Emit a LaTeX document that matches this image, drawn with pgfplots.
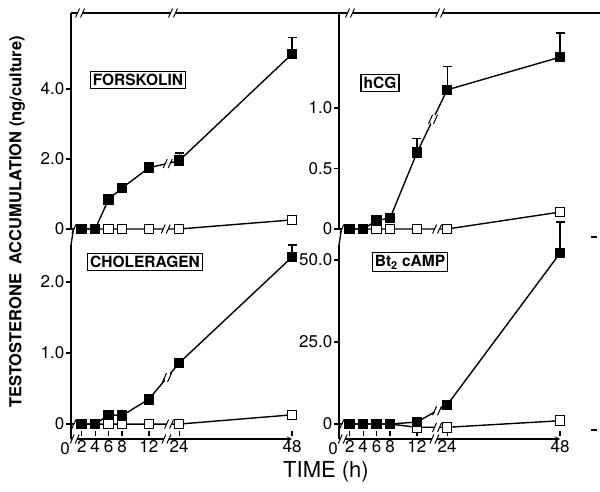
\documentclass[border=0pt]{standalone}
\usepackage{fontspec}
\setmainfont{TeX Gyre Heros}
\usepackage{pgfplots}
\pgfplotsset{compat=1.18}

% break mark "//" centred on a point
\newcommand{\brk}[1]{%
  \fill[white] ([shift={(-2.5pt,-4.5pt)}]#1) rectangle ([shift={(2.5pt,4.5pt)}]#1);
  \draw[line width=1pt] ([shift={(-4.5pt,-4.5pt)}]#1) -- ([shift={(-0.5pt,4.5pt)}]#1)
                        ([shift={(0.5pt,-4.5pt)}]#1) -- ([shift={(4.5pt,4.5pt)}]#1);}

\tikzset{lab/.style={draw=black, line width=1.3pt, inner sep=2.5pt,
    font=\fontsize{15.5}{17}\selectfont\bfseries}}

\pgfplotsset{
  panel/.style={
    scale only axis, clip=false, anchor=south west,
    xmin=0.4, xmax=33.3,
    axis y line=left, axis line style={-, line width=1.3pt},
    tick align=outside, major tick length=5pt,
    tick style={line width=1.2pt, black},
    ticklabel style={font=\fontsize{17}{18}\selectfont},
    yticklabel style={inner sep=1.5pt},
  },
  toppanel/.style={panel, axis x line=none, xtick=\empty, width=221pt, height=216pt, ymin=0},
  botpanel/.style={panel, axis x line=bottom, width=221pt, height=194pt,
    xtick={2,4,6,8,12,16.5,33.3}, xticklabels={2,4,6,8,12,24,48},
    xtick style={yshift=6pt, line width=1.2pt}, xticklabel style={yshift=5pt}},
  filled/.style={black, line width=1.4pt, mark=square*, mark size=4.8pt,
    mark options={fill=black, line width=1pt}},
  open/.style={black, line width=1.4pt, mark=square*, mark size=4.8pt,
    mark options={fill=white, line width=1pt}},
  errs/.style={forget plot, draw=none, error bars/.cd, y dir=plus, y explicit,
    error bar style={draw=black, line width=1.2pt},
    error mark options={rotate=90, draw=black, line width=1.2pt, mark size=4.5pt}},
}

\begin{document}
\begin{tikzpicture}[x=1pt,y=1pt]
\useasboundingbox (0,0) rectangle (600,491);

% ---------- FORSKOLIN ----------
\begin{axis}[toppanel, at={(71pt,262pt)}, ymax=6.17,
  ytick={0,2,4}, yticklabels={0,2.0,4.0}]
\addplot[errs] coordinates {(12,1.75) +- (0,0.11) (16.5,1.95) +- (0,0.22) (33.3,5.0) +- (0,0.47)};
\draw[line width=1.4pt] (axis cs:0.4,0) -- (axis cs:2,0);
\addplot[open] coordinates {(2,0) (4,0) (6,0) (8,0) (12,0) (16.5,0) (33.3,0.26)};
\addplot[filled] coordinates {(2,0) (4,0) (6,0.85) (8,1.17) (12,1.75) (16.5,1.95) (33.3,5.0)};
\brk{axis cs:1.2,0}
\brk{axis cs:14.5,0}
\brk{axis cs:14.8,1.87}
\end{axis}

% ---------- hCG ----------
\begin{axis}[toppanel, at={(339pt,262pt)}, ymax=1.785,
  ytick={0,0.5,1}, yticklabels={0,0.5,1.0}]
\addplot[errs] coordinates {(12,0.63) +- (0,0.12) (16.5,1.15) +- (0,0.19) (33.3,1.42) +- (0,0.2)};
\draw[line width=1.4pt] (axis cs:0.4,0) -- (axis cs:2,0);
\addplot[open] coordinates {(2,0) (4,0) (6,0) (8,0) (12,0) (16.5,0) (33.3,0.14)};
\addplot[filled] coordinates {(2,0) (4,0) (6,0.07) (8,0.09) (12,0.63) (16.5,1.15) (33.3,1.42)};
\brk{axis cs:1.2,0}
\brk{axis cs:15,0}
\brk{axis cs:14.4,0.907}
\end{axis}

% ---------- CHOLERAGEN ----------
\begin{axis}[botpanel, at={(71pt,52pt)}, ymin=-0.21, ymax=2.52,
  ytick={0,1,2}, yticklabels={0,1.0,2.0}]
\addplot[errs] coordinates {(16.5,0.86) +- (0,0.05) (33.3,2.35) +- (0,0.17)};
\draw[line width=1.4pt] (axis cs:0.4,0) -- (axis cs:2,0);
\draw[line width=1.3pt] (rel axis cs:0,1) -- ++(5pt,0);
\addplot[open] coordinates {(2,0) (4,0) (6,0) (8,0) (12,0) (16.5,0) (33.3,0.13)};
\addplot[filled] coordinates {(2,0) (4,0) (6,0.13) (8,0.12) (12,0.35) (16.5,0.86) (33.3,2.35)};
\brk{axis cs:1.2,0}
\brk{axis cs:15,0}
\brk{axis cs:14.7,0.656}
\brk{axis cs:0.95,-0.21}
\brk{axis cs:14.6,-0.21}
\end{axis}

% ---------- Bt2 cAMP ----------
\begin{axis}[botpanel, at={(339pt,52pt)}, ymin=-4.57, ymax=54.6,
  ytick={0,25,50}, yticklabels={0,25.0,50.0}]
\addplot[errs] coordinates {(33.3,52.1) +- (0,9.5)};
\draw[line width=1.4pt] (axis cs:0.4,0) -- (axis cs:2,0);
\draw[line width=1.3pt] (rel axis cs:0,1) -- ++(5pt,0);
\addplot[open] coordinates {(2,0) (4,0) (6,0) (8,0) (12,-1) (16.5,-1) (33.3,1)};
\addplot[filled] coordinates {(2,0) (4,0) (6,0) (8,0) (12,0.6) (16.5,5.8) (33.3,52.1)};
\brk{axis cs:1.2,0}
\brk{axis cs:15,-1}
\brk{axis cs:15,4.07}
\brk{axis cs:0.95,-4.57}
\brk{axis cs:14.6,-4.57}
\end{axis}

% top frame line with breaks
\draw[line width=1.3pt] (71,478) -- (600,478);
\brk{80,478}
\brk{173,478}
\brk{350,478}
\brk{440,478}

% "0" of the time axes
\node[font=\fontsize{17}{18}\selectfont] at (65,42) {0};
\node[font=\fontsize{17}{18}\selectfont] at (333,42) {0};

% boxed labels
\node[lab] at (138,411) {FORSKOLIN};
\node[lab] at (380,408) {hCG};
\node[lab] at (145,229) {CHOLERAGEN};
\node[lab] at (410,229) {Bt\textsubscript{2} cAMP};

% axis titles
\node[rotate=90, font=\fontsize{16.5}{18}\selectfont\bfseries] at (17,269)
  {TESTOSTERONE\ \ ACCUMULATION (ng/culture)};
\node[font=\fontsize{22}{24}\selectfont] at (326,19) {TIME (h)};

% small marks at the right edge
\draw[line width=1.2pt] (591,254) -- (597,254);
\draw[line width=1.2pt] (591,61) -- (597,61);
\end{tikzpicture}
\end{document}
